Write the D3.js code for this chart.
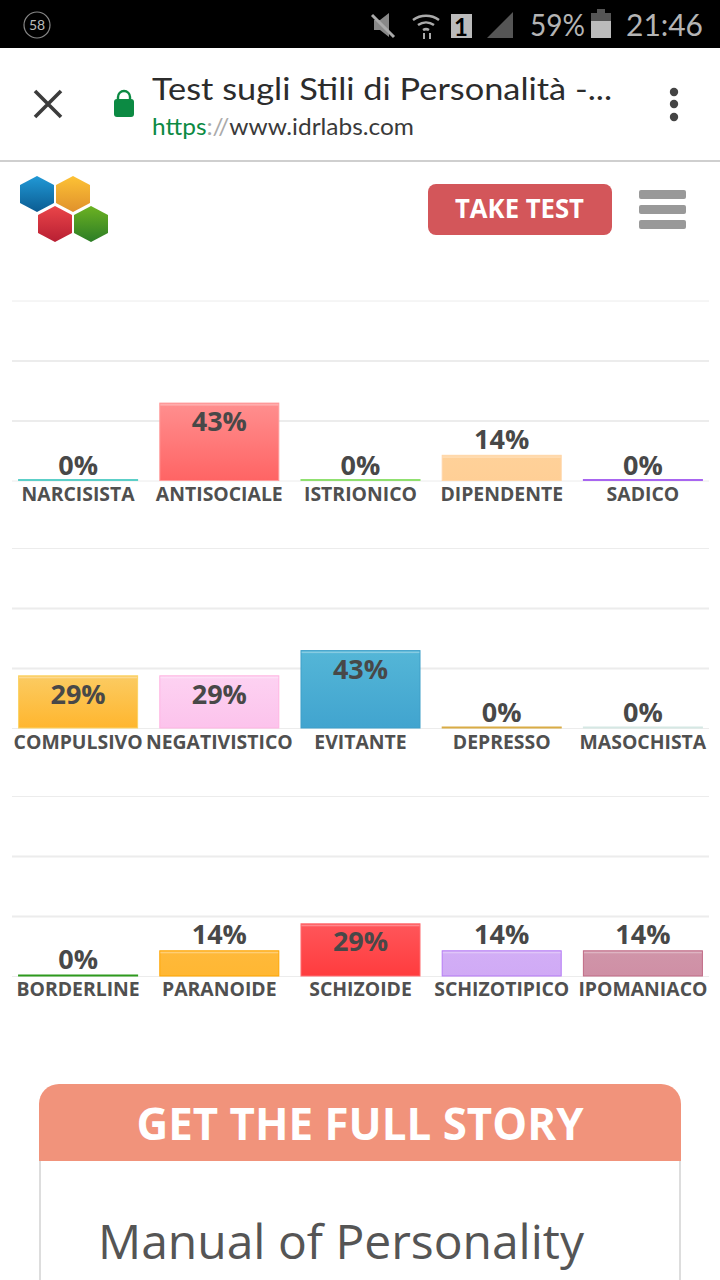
<!DOCTYPE html>
<html lang="en">
<head>
<meta charset="utf-8">
<script src="https://d3js.org/d3.v7.min.js"></script>
<style>
html, body { margin: 0; padding: 0; background: #fff; }
svg { display: block; }
text { font-family: "Open Sans", sans-serif; }
.cat text { font-weight: 700; font-size: 19.4px; fill: #505050; }
.value { font-weight: 700; font-size: 27px; fill: #484848; text-anchor: middle; }
.grid line { stroke: #ececec; }
.grid path, .cat path, .cat line { display: none; }
.ui { font-family: Lato, sans-serif; }
</style>
</head>
<body>
<svg width="720" height="1280"></svg>
<script>
// one row of bars per panel
var categories1 = ["NARCISISTA", "ANTISOCIALE", "ISTRIONICO", "DIPENDENTE", "SADICO"],
    categories2 = ["COMPULSIVO", "NEGATIVISTICO", "EVITANTE", "DEPRESSO", "MASOCHISTA"],
    categories3 = ["BORDERLINE", "PARANOIDE", "SCHIZOIDE", "SCHIZOTIPICO", "IPOMANIACO"];

var values1 = [0, 43, 0, 14, 0],
    values2 = [29, 29, 43, 0, 0],
    values3 = [0, 14, 29, 14, 14];

// top colour, bottom colour, border
var colors1 = [["#6fd8d0", "#6fd8d0", "#5ccfc8"], ["#ff8f8f", "#ff6464", "#ff9a9a"], ["#9ae878", "#9ae878", "#90e070"], ["#ffd199", "#ffcf96", "#ffd6a8"], ["#b07cf5", "#b07cf5", "#a865f0"]],
    colors2 = [["#fbcb62", "#ffb62e", "#fbd364"], ["#fdd2f2", "#fcc3ec", "#ffb4e2"], ["#54b6d7", "#41a4cf", "#3f9fc9"], ["#dcae4a", "#dcae4a", "#d9ac45"], ["#d8ebe7", "#d8ebe7", "#d5e8e4"]],
    colors3 = [["#2e9a1e", "#2e9a1e", "#2e9a1e"], ["#ffb93a", "#ffb733", "#ffa500"], ["#ff565a", "#ff3c3e", "#ff6c70"], ["#d2aef6", "#d0aaf5", "#b57bf5"], ["#d095a9", "#cf8fa5", "#c06a85"]];

var gridValues = [0, 100 / 3, 200 / 3, 100];

var svg = d3.select("svg"),
    defs = svg.append("defs");

function gradient(id, top, bottom) {
    var g = defs.append("linearGradient").attr("id", id)
        .attr("x1", 0).attr("y1", 0).attr("x2", 0).attr("y2", 1);
    g.append("stop").attr("offset", "0%").attr("stop-color", top);
    g.append("stop").attr("offset", "100%").attr("stop-color", bottom);
    return "url(#" + id + ")";
}

var x = d3.scaleBand().range([7.5, 713.5]).paddingInner(0.15).paddingOuter(0.075);

function drawPanel(name, baseline, categories, values, colors, labelOffset, valueShift) {
    var y = d3.scaleLinear().domain([0, 100]).range([baseline, baseline - 180]);
    x.domain(categories);

    var panel = svg.append("g");

    var grid = panel.append("g").attr("class", "grid")
        .attr("transform", "translate(12,0)")
        .call(d3.axisLeft(y).tickValues(gridValues).tickSize(-697).tickFormat(""));
    grid.selectAll("line").attr("stroke-width", function(d) { return d === 100 || d === 0 ? 1 : 2; });

    panel.selectAll("rect.bar").data(values).enter().append("rect")
        .attr("class", "bar")
        .attr("x", function(d, i) { return x(categories[i]) + 0.5; })
        .attr("y", function(d) { return y(d) - (d === 0 ? 1 : 0); })
        .attr("width", x.bandwidth() - 1)
        .attr("height", function(d) { return d === 0 ? 1 : baseline - y(d); })
        .attr("fill", function(d, i) { return gradient(name + i, colors[i][0], colors[i][1]); })
        .attr("stroke", function(d, i) { return colors[i][2]; })
        .attr("stroke-width", 1);

    // pale highlight just under the top edge
    var tall = categories.filter(function(c, i) { return values[i] > 0; });
    panel.selectAll("rect.shine").data(tall).enter().append("rect")
        .attr("class", "shine")
        .attr("x", function(c) { return x(c) + 1; })
        .attr("y", function(c) { return y(values[categories.indexOf(c)]) + 1; })
        .attr("width", x.bandwidth() - 2)
        .attr("height", 1.5)
        .attr("fill", "#fff").attr("opacity", 0.3);

    panel.selectAll("text.value").data(values).enter().append("text")
        .attr("class", "value")
        .attr("x", function(d, i) { return x(categories[i]) + x.bandwidth() / 2; })
        .attr("y", function(d) { return (d >= 29 ? y(d) + 28 : y(d) - 6) + valueShift; })
        .text(function(d) { return d + "%"; });

    var axis = panel.append("g").attr("class", "cat")
        .attr("transform", "translate(0," + baseline + ")")
        .call(d3.axisBottom(x).tickSize(0));
    axis.selectAll("text").attr("y", labelOffset).attr("dy", 0);
}

function chrome() {
    svg.append("rect").attr("width", 720).attr("height", 48).attr("fill", "#000");

    // status bar
    svg.append("circle").attr("cx", 37).attr("cy", 25).attr("r", 13)
        .attr("fill", "none").attr("stroke", "#888").attr("stroke-width", 1.2);
    svg.append("text").attr("class", "ui").attr("x", 37).attr("y", 30).attr("text-anchor", "middle")
        .attr("font-size", 14).attr("fill", "#bbb").text("58");
    svg.append("path").attr("d", "M374 20h6l9-7v24l-9-7h-6z").attr("fill", "#888");
    svg.append("path").attr("d", "M372 15l22 22").attr("stroke", "#aaa").attr("stroke-width", 3);
    svg.append("path").attr("d", "M413 20a22 22 0 0 1 26 0M418 25a14 14 0 0 1 16 0M423 30a6 6 0 0 1 6 0")
        .attr("fill", "none").attr("stroke", "#aaa").attr("stroke-width", 2.5);
    svg.append("path").attr("d", "M424 33v6M430 33v6").attr("stroke", "#aaa").attr("stroke-width", 2);
    svg.append("rect").attr("x", 451).attr("y", 14).attr("width", 21).attr("height", 24).attr("fill", "#bbb");
    svg.append("text").attr("class", "ui").attr("x", 461).attr("y", 36).attr("text-anchor", "middle")
        .attr("font-size", 24).attr("font-weight", 700).attr("fill", "#000").text("1");
    svg.append("path").attr("d", "M487 38L513 12V38z").attr("fill", "#555");
    svg.append("text").attr("class", "ui").attr("x", 530).attr("y", 36).attr("font-size", 30)
        .attr("fill", "#b4b4b4").attr("textLength", 55).attr("lengthAdjust", "spacingAndGlyphs").text("59%");
    svg.append("rect").attr("x", 591).attr("y", 13).attr("width", 20).attr("height", 25).attr("fill", "#555");
    svg.append("rect").attr("x", 591).attr("y", 21).attr("width", 20).attr("height", 17).attr("fill", "#bbb");
    svg.append("rect").attr("x", 597).attr("y", 9).attr("width", 8).attr("height", 4).attr("fill", "#555");
    svg.append("text").attr("class", "ui").attr("x", 626).attr("y", 36).attr("font-size", 30)
        .attr("fill", "#b4b4b4").attr("textLength", 77).attr("lengthAdjust", "spacingAndGlyphs").text("21:46");

    // browser bar
    svg.append("path").attr("d", "M35 91L61 117M61 91L35 117").attr("stroke", "#3c3c3c").attr("stroke-width", 3.6);
    svg.append("rect").attr("x", 114).attr("y", 99).attr("width", 20).attr("height", 18).attr("rx", 3).attr("fill", "#0c8a43");
    svg.append("path").attr("d", "M118 100v-3a6 6 0 0 1 12 0v3").attr("fill", "none").attr("stroke", "#0c8a43").attr("stroke-width", 2.4);
    svg.append("text").attr("class", "ui").attr("x", 152).attr("y", 100).attr("font-size", 31)
        .attr("fill", "#2c2c2c").attr("textLength", 460).attr("lengthAdjust", "spacingAndGlyphs")
        .text("Test sugli Stili di Personalità -...");
    var url = svg.append("text").attr("class", "ui").attr("x", 152).attr("y", 135).attr("font-size", 24)
        .attr("textLength", 262).attr("lengthAdjust", "spacingAndGlyphs");
    url.append("tspan").attr("fill", "#0c8a43").text("https");
    url.append("tspan").attr("fill", "#aaa").text("://");
    url.append("tspan").attr("fill", "#3a3a3a").text("www.idrlabs.com");
    [92, 104, 117].forEach(function(cy) {
        svg.append("circle").attr("cx", 674).attr("cy", cy).attr("r", 4.2).attr("fill", "#444");
    });
    svg.append("rect").attr("y", 160).attr("width", 720).attr("height", 2).attr("fill", "#cfcfcf");

    // logo
    var hex = d3.line();
    [[37, 194, "#2199d6", "#0b5c92"], [73, 194, "#fdc235", "#e0912c"], [55, 224, "#ea4549", "#b81f33"], [91, 224, "#6cb222", "#2c7d26"]].forEach(function(h, i) {
        svg.append("path")
            .attr("d", hex([[h[0], h[1] - 18], [h[0] + 17, h[1] - 9], [h[0] + 17, h[1] + 9], [h[0], h[1] + 18], [h[0] - 17, h[1] + 9], [h[0] - 17, h[1] - 9]]) + "Z")
            .attr("fill", gradient("logo" + i, h[2], h[3]));
    });

    // site header
    svg.append("rect").attr("x", 428).attr("y", 184).attr("width", 184).attr("height", 51).attr("rx", 8).attr("fill", "#d3565a");
    svg.append("text").attr("x", 455).attr("y", 218).attr("font-size", 26).attr("font-weight", 700)
        .attr("fill", "#fff").attr("textLength", 129).attr("lengthAdjust", "spacingAndGlyphs").text("TAKE TEST");
    [190, 205, 220].forEach(function(ry) {
        svg.append("rect").attr("x", 639).attr("y", ry).attr("width", 47).attr("height", 9).attr("rx", 2).attr("fill", "#999");
    });

    // box under the chart
    svg.append("path").attr("d", "M40 1161V1280M680 1161V1280").attr("stroke", "#ddd").attr("stroke-width", 2);
    svg.append("path").attr("d", "M39 1161V1104a20 20 0 0 1 20-20H661a20 20 0 0 1 20 20V1161Z").attr("fill", "#f1937b");
    svg.append("text").attr("x", 360).attr("y", 1140).attr("text-anchor", "middle").attr("font-size", 44)
        .attr("font-weight", 700).attr("fill", "#fff").attr("textLength", 447).attr("lengthAdjust", "spacingAndGlyphs")
        .text("GET THE FULL STORY");
    svg.append("text").attr("x", 98).attr("y", 1259).attr("font-size", 48).attr("fill", "#555")
        .attr("textLength", 486).attr("lengthAdjust", "spacingAndGlyphs").text("Manual of Personality");
}

chrome();
drawPanel("a", 480.5, categories1, values1, colors1, 20, 0);
drawPanel("b", 728, categories2, values2, colors2, 20.5, 0);
drawPanel("c", 976, categories3, values3, colors3, 20, -1);
</script>
</body>
</html>
